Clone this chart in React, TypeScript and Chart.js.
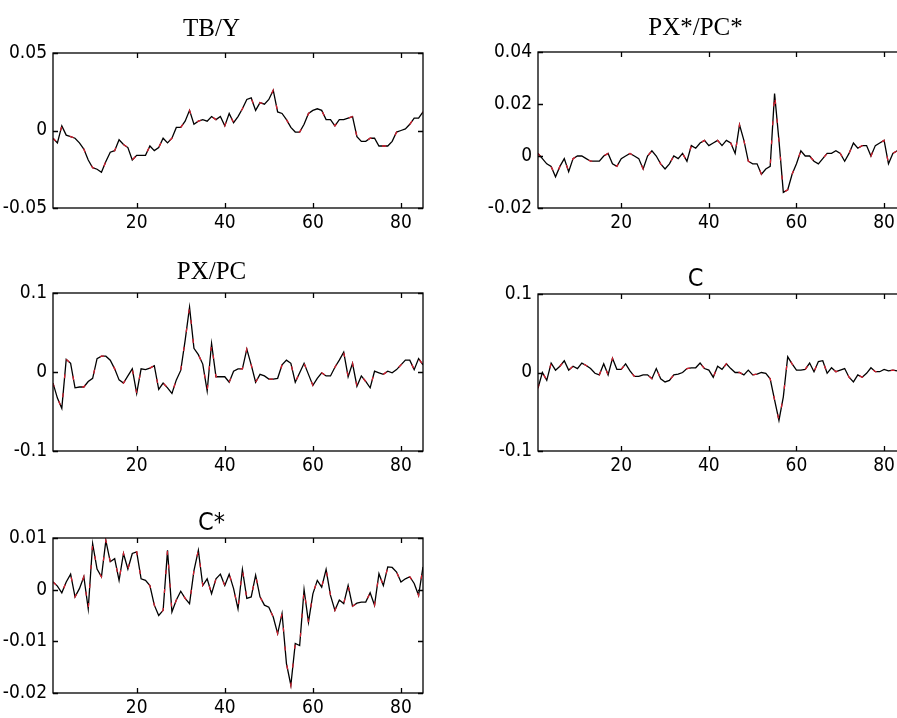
import React, { useEffect, useRef } from "react";
import { Chart, registerables } from "chart.js";

Chart.register(...registerables);

// ---- data ----
const periods: number[] = Array.from({ length: 85 }, (_, i) => i + 1);
const xTickValues = [20, 40, 60, 80];

const tbY = [
  -0.005, -0.008, 0.003, -0.003, -0.004, -0.005, -0.008, -0.012, -0.019, -0.024,
  -0.025, -0.027, -0.020, -0.014, -0.013, -0.006, -0.009, -0.011, -0.019, -0.016,
  -0.016, -0.016, -0.010, -0.013, -0.011, -0.005, -0.008, -0.005, 0.002, 0.002,
  0.006, 0.013, 0.004, 0.006, 0.007, 0.006, 0.009, 0.007, 0.009, 0.003,
  0.011, 0.005, 0.009, 0.014, 0.020, 0.021, 0.013, 0.018, 0.017, 0.020,
  0.026, 0.012, 0.011, 0.007, 0.002, -0.001, -0.001, 0.004, 0.011, 0.013,
  0.014, 0.013, 0.007, 0.007, 0.003, 0.007, 0.007, 0.008, 0.009, -0.004,
  -0.007, -0.007, -0.005, -0.005, -0.010, -0.010, -0.010, -0.007, -0.001, 0.000,
  0.001, 0.004, 0.008, 0.008, 0.012,
];

const pxStarPcStar = [
  0.001, -0.001, -0.003, -0.004, -0.008, -0.004, -0.001, -0.006, -0.001, 0.000,
  0.000, -0.001, -0.002, -0.002, -0.002, 0.000, 0.001, -0.003, -0.004, -0.001,
  0.000, 0.001, 0.000, -0.001, -0.005, 0.000, 0.002, 0.000, -0.003, -0.005,
  -0.003, 0.000, -0.001, 0.001, -0.002, 0.004, 0.003, 0.005, 0.006, 0.004,
  0.005, 0.006, 0.004, 0.006, 0.005, 0.001, 0.012, 0.006, -0.002, -0.003,
  -0.003, -0.007, -0.005, -0.004, 0.024, 0.006, -0.014, -0.013, -0.007, -0.003,
  0.002, 0.000, 0.000, -0.002, -0.003, -0.001, 0.001, 0.001, 0.002, 0.001,
  -0.002, 0.001, 0.005, 0.003, 0.004, 0.004, 0.000, 0.004, 0.005, 0.006,
  -0.003, 0.001, 0.002, 0.001, 0.002,
];

const pxPc = [
  -0.014, -0.033, -0.046, 0.016, 0.011, -0.020, -0.019, -0.019, -0.012, -0.008,
  0.017, 0.020, 0.020, 0.015, 0.004, -0.010, -0.014, -0.005, 0.004, -0.027,
  0.004, 0.003, 0.005, 0.008, -0.022, -0.014, -0.020, -0.027, -0.010, 0.002,
  0.040, 0.082, 0.030, 0.022, 0.010, -0.024, 0.036, -0.006, -0.006, -0.006,
  -0.013, 0.001, 0.004, 0.004, 0.029, 0.009, -0.013, -0.003, -0.005, -0.009,
  -0.009, -0.008, 0.009, 0.015, 0.011, -0.013, -0.001, 0.011, -0.003, -0.017,
  -0.008, -0.001, -0.005, -0.005, 0.006, 0.015, 0.025, -0.006, 0.011, -0.018,
  -0.005, -0.012, -0.020, 0.001, -0.001, -0.003, 0.001, -0.001, 0.003, 0.009,
  0.015, 0.015, 0.003, 0.017, 0.009,
];

const cSeries = [
  -0.020, 0.000, -0.010, 0.012, 0.003, 0.008, 0.015, 0.003, 0.008, 0.005,
  0.012, 0.009, 0.005, -0.001, -0.003, 0.011, -0.003, 0.018, 0.004, 0.004,
  0.011, 0.002, -0.005, -0.005, -0.003, -0.003, -0.008, 0.005, -0.008, -0.012,
  -0.010, -0.003, -0.002, 0.000, 0.005, 0.006, 0.006, 0.012, 0.005, 0.003,
  -0.006, 0.008, 0.004, 0.011, 0.005, 0.000, 0.000, -0.003, 0.003, -0.003,
  -0.002, 0.000, -0.001, -0.008, -0.035, -0.061, -0.031, 0.020, 0.011, 0.003,
  0.003, 0.004, 0.012, 0.001, 0.014, 0.015, -0.001, 0.006, 0.001, 0.003,
  0.005, -0.006, -0.012, -0.003, -0.006, -0.001, 0.006, 0.001, 0.001, 0.004,
  0.002, 0.003, 0.002, 0.000, 0.003,
];

const cStar = [
  0.0015, 0.0007, -0.0006, 0.0015, 0.003, -0.0014, 0.0002, 0.0025, -0.0037, 0.0089,
  0.004, 0.0025, 0.0095, 0.0054, 0.006, 0.0018, 0.007, 0.004, 0.007, 0.0073,
  0.0021, 0.0018, 0.0008, -0.003, -0.005, -0.004, 0.0076, -0.0043, -0.002, -0.0003,
  -0.0017, -0.0027, 0.0037, 0.0076, 0.0008, 0.0021, -0.0008, 0.0021, 0.003, 0.0008,
  0.003, 0.0002, -0.0037, 0.0039, -0.0017, -0.0014, 0.0028, -0.0014, -0.003, -0.0034,
  -0.0053, -0.0085, -0.0046, -0.0143, -0.0185, -0.0104, -0.0108, 0.0, -0.0063, -0.0008,
  0.0018, 0.0005, 0.0039, -0.0011, -0.004, -0.002, -0.0027, 0.0008, -0.0032, -0.0026,
  -0.0024, -0.0024, -0.0006, -0.003, 0.0031, 0.0008, 0.0044, 0.0043, 0.0034, 0.0015,
  0.0021, 0.0025, 0.0012, -0.0011, 0.0044,
];

const yTicksTbY = [-0.05, 0, 0.05];
const yTicksPxStar = [-0.02, 0, 0.02, 0.04];
const yTicksPxPc = [-0.1, 0, 0.1];
const yTicksC = [-0.1, 0, 0.1];
const yTicksCStar = [-0.02, -0.01, 0, 0.01];

// ---- styles / layout ----
const SERIF = "'Liberation Serif', 'DejaVu Serif', serif";
const SANS_NARROW = "'DejaVu Sans Condensed', 'Liberation Sans', Arial, sans-serif";
const AXIS_W = 53;
const TITLE_H = 53;

type PanelSpec = {
  title: string;
  titleFont: string;
  titlePadTop: number;
  values: number[];
  yTicks: number[];
  left: number;
  top: number;
  w: number;
  h: number;
};

const panels: PanelSpec[] = [
  { title: "TB/Y", titleFont: SERIF, titlePadTop: 14, values: tbY, yTicks: yTicksTbY, left: 53, top: 53, w: 370, h: 155 },
  { title: "PX*/PC*", titleFont: SERIF, titlePadTop: 14, values: pxStarPcStar, yTicks: yTicksPxStar, left: 538, top: 52, w: 368, h: 156 },
  { title: "PX/PC", titleFont: SERIF, titlePadTop: 17, values: pxPc, yTicks: yTicksPxPc, left: 53, top: 293, w: 370, h: 158 },
  { title: "C", titleFont: SANS_NARROW, titlePadTop: 23, values: cSeries, yTicks: yTicksC, left: 538, top: 294, w: 368, h: 157 },
  { title: "C*", titleFont: SANS_NARROW, titlePadTop: 23, values: cStar, yTicks: yTicksCStar, left: 53, top: 538, w: 370, h: 155 },
];

const framePlugin = {
  id: "matlabFrame",
  afterDatasetsDraw(chart: any, _args: any, opts: any) {
    const { ctx, chartArea: a, scales } = chart;
    ctx.save();
    ctx.strokeStyle = "#000";
    ctx.lineWidth = 1.3;
    ctx.strokeRect(a.left, a.top, a.right - a.left, a.bottom - a.top);
    const L = 5;
    ctx.beginPath();
    for (const v of opts.xTicks as number[]) {
      const px = Math.round(scales.x.getPixelForValue(v)) + 0.5;
      ctx.moveTo(px, a.bottom);
      ctx.lineTo(px, a.bottom - L);
      ctx.moveTo(px, a.top);
      ctx.lineTo(px, a.top + L);
    }
    for (const v of opts.yTicks as number[]) {
      const py = Math.round(scales.y.getPixelForValue(v)) + 0.5;
      ctx.moveTo(a.left, py);
      ctx.lineTo(a.left + L, py);
      ctx.moveTo(a.right, py);
      ctx.lineTo(a.right - L, py);
    }
    ctx.stroke();
    ctx.restore();
  },
};

function Panel({ spec }: { spec: PanelSpec }) {
  const ref = useRef<HTMLCanvasElement>(null);
  const cw = AXIS_W + spec.w + 12;
  const ch = TITLE_H + spec.h + 32;
  useEffect(() => {
    if (!ref.current) return;
    const pts = periods.map((p, i) => ({ x: p, y: spec.values[i] }));
    const yMin = spec.yTicks[0];
    const yMax = spec.yTicks[spec.yTicks.length - 1];
    const chart = new Chart(ref.current, {
      type: "line",
      data: {
        datasets: [
          {
            label: "black",
            data: pts,
            borderColor: "#000000",
            borderWidth: 1.3,
            pointRadius: 0,
            tension: 0,
            order: 2,
          },
          {
            label: "red",
            data: pts,
            borderColor: "#d42030",
            borderWidth: 1.3,
            borderDash: [4, 15],
            pointRadius: 0,
            tension: 0,
            order: 1,
          },
        ],
      },
      options: {
        animation: false,
        responsive: false,
        maintainAspectRatio: false,
        events: [],
        layout: { padding: { left: 0, right: 12, top: 0, bottom: 0 } },
        plugins: {
          legend: { display: false },
          tooltip: { enabled: false },
          title: {
            display: true,
            text: spec.title,
            color: "#000",
            font: { family: spec.titleFont, size: 25, weight: "normal", lineHeight: 1.2 },
            padding: { top: spec.titlePadTop, bottom: TITLE_H - 30 - spec.titlePadTop },
          },
          matlabFrame: { xTicks: xTickValues, yTicks: spec.yTicks },
        } as any,
        scales: {
          x: {
            type: "linear",
            min: 1,
            max: 85,
            grid: { display: false, drawTicks: false },
            border: { display: false },
            afterBuildTicks: (s: any) => {
              s.ticks = xTickValues.map((v) => ({ value: v }));
            },
            afterFit: (s: any) => {
              s.height = 32;
            },
            ticks: {
              autoSkip: false,
              maxRotation: 0,
              padding: 4,
              color: "#000",
              font: { family: SANS_NARROW, size: 19 },
              callback: (v: any) => String(v),
            },
          },
          y: {
            type: "linear",
            min: yMin,
            max: yMax,
            grid: { display: false, drawTicks: false },
            border: { display: false },
            afterBuildTicks: (s: any) => {
              s.ticks = spec.yTicks.map((v) => ({ value: v }));
            },
            afterFit: (s: any) => {
              s.width = AXIS_W;
            },
            ticks: {
              autoSkip: false,
              padding: 6,
              color: "#000",
              font: { family: SANS_NARROW, size: 19 },
              callback: (v: any) => String(v),
            },
          },
        },
      },
      plugins: [framePlugin],
    });
    return () => chart.destroy();
  }, [spec]);
  return (
    <canvas
      ref={ref}
      width={cw}
      height={ch}
      style={{
        position: "absolute",
        left: spec.left - AXIS_W,
        top: spec.top - TITLE_H,
        width: cw,
        height: ch,
      }}
    />
  );
}

export default function App() {
  return (
    <div
      style={{
        position: "fixed",
        left: 0,
        top: 0,
        width: 897,
        height: 718,
        overflow: "hidden",
        background: "#ffffff",
      }}
    >
      {panels.map((p) => (
        <Panel key={p.title} spec={p} />
      ))}
    </div>
  );
}
